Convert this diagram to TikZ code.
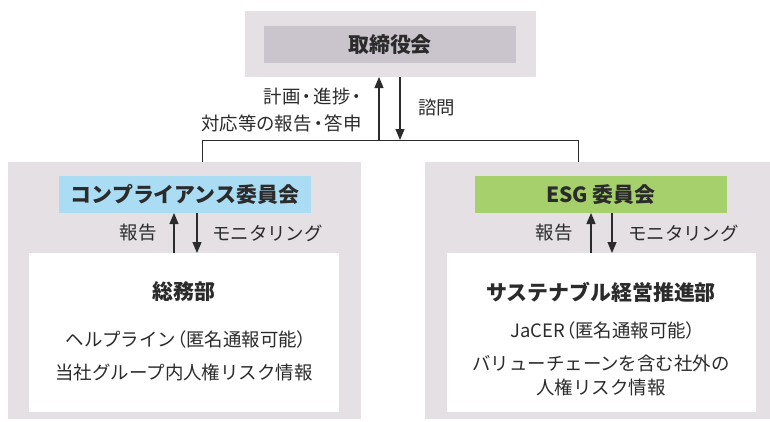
\documentclass[tikz,border=0pt]{standalone}
\usepackage{fontspec}
\setmainfont{Noto Sans CJK JP}
\newfontfamily\paltfont[RawFeature=+palt]{Noto Sans CJK JP}
\newcommand{\pdot}{\hspace{2bp}{\paltfont ・}\hspace{2bp}}
\newcommand{\plp}{\hspace{1bp}{\paltfont （}}
\newcommand{\prp}{{\paltfont ）}}
\usetikzlibrary{arrows.meta}
\definecolor{outergray}{HTML}{E4E0E4}
\definecolor{innergray}{HTML}{CAC5CC}
\definecolor{blueb}{HTML}{AADDF3}
\definecolor{greenb}{HTML}{A6D06C}
\definecolor{txt}{HTML}{2B2B2B}
\tikzset{
  outerbox/.style={fill=outergray, draw=none, inner sep=0pt},
  headbox/.style={draw=none, inner sep=0pt, font=\fontsize{21}{24}\selectfont\bfseries, text=txt},
  whitebox/.style={fill=white, draw=none, inner sep=0pt},
  lbl/.style={font=\fontsize{18.5}{22}\selectfont, text=txt, inner sep=0pt},
  body/.style={font=\fontsize{18.5}{22}\selectfont, text=txt, inner sep=0pt},
  conn/.style={draw=txt, line width=0.9bp},
  arr/.style={draw=txt, line width=1.2bp, -{Triangle[length=11bp,width=9bp]}}
}
\begin{document}
\begin{tikzpicture}[x=1bp,y=-1bp]
\useasboundingbox (0,0) rectangle (770,421);
% top
\node[outerbox, minimum width=291bp, minimum height=66bp] (topo) at (390.5,44) {};
\node[headbox, fill=innergray, minimum width=252bp, minimum height=37bp] (board) at (390,44.5) {取締役会};
% left
\node[outerbox, minimum width=353bp, minimum height=257bp] (lefto) at (184.5,290.5) {};
\node[headbox, fill=blueb, minimum width=252bp, minimum height=37bp] (comp) at (185,194.5) {コンプライアンス委員会};
\node[whitebox, minimum width=310bp, minimum height=159bp] (lw) at (184,332.5) {};
% right
\node[outerbox, minimum width=345bp, minimum height=257bp] (righto) at (597.5,290.5) {};
\node[headbox, fill=greenb, minimum width=252bp, minimum height=37bp] (esg) at (601,194.5) {ESG 委員会};
\node[whitebox, minimum width=309bp, minimum height=159bp] (rw) at (601.5,332.5) {};
% connectors from board
\coordinate (hl) at (202,140);
\coordinate (hr) at (578,140);
\draw[conn] (lefto.north -| hl) -- (hl) -- (hr) -- (righto.north -| hr);
\draw[arr] (379,140) -- (379,77);
\draw[arr] (400,77) -- (400,140);
\node[lbl, anchor=east] (l1) at (362,97) {計画\pdot 進捗\pdot};
\node[lbl, anchor=east] (l2) at (362,123) {対応等の報告\pdot 答申};
\node[lbl, anchor=west] (l3) at (418,108) {諮問};
% left arrows
\draw[arr] (174,253) -- (174,213);
\draw[arr] (197,213) -- (197,253);
\node[lbl, anchor=east] (lr) at (157,233) {報告};
\node[lbl, anchor=west] (lm) at (212,233) {モニタリング};
% right arrows
\draw[arr] (591,253) -- (591,213);
\draw[arr] (612,213) -- (612,253);
\node[lbl, anchor=east] (rr) at (573,233) {報告};
\node[lbl, anchor=west] (rm) at (628,233) {モニタリング};
% left body
\node[headbox] (gen) at (184,292) {総務部};
\node[body] (lb1) at (186,339) {ヘルプライン\plp 匿名通報可能\prp};
\node[body] (lb2) at (184,372) {当社グループ内人権リスク情報};
% right body
\node[headbox] (sus) at (601,292) {サステナブル経営推進部};
\node[body] (rb1) at (603,330) {JaCER\plp 匿名通報可能\prp};
\node[body] (rb2) at (601,363) {バリューチェーンを含む社外の};
\node[body] (rb3) at (601,387) {人権リスク情報};
\end{tikzpicture}
\end{document}
